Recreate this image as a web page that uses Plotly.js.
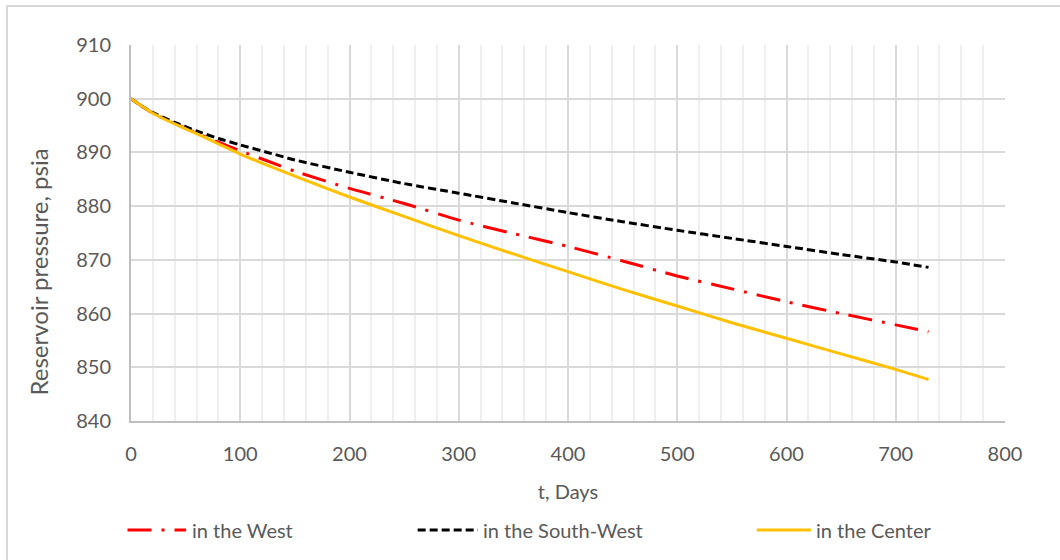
<!DOCTYPE html>
<html>
<head>
<meta charset="utf-8">
<script src="https://cdn.plot.ly/plotly-3.0.1.min.js"></script>
<style>
  html, body { margin: 0; padding: 0; background: #ffffff; }
  #wrap { position: relative; width: 1060px; height: 560px; overflow: hidden; }
  #chart { width: 1060px; height: 560px; }
  #frame {
    position: absolute; left: 6px; top: 5px; width: 1200px; height: 700px;
    border-left: 2px solid #d9d9d9; border-top: 2px solid #d9d9d9;
    pointer-events: none;
  }
</style>
</head>
<body>
<div id="wrap">
  <div id="chart"></div>
  <div id="frame"></div>
</div>
<script>
// Time since start of production, days
const days = [0, 10, 20, 40, 60, 80, 100, 125, 150, 200, 250, 300, 350, 400, 450, 500, 550, 600, 650, 700, 730];

// Average reservoir pressure (psia) for each well location
const westPressure = [900, 898.6, 897.3, 895.4, 893.6, 891.9, 890.3, 888.4, 886.5, 883.3, 880.5, 877.4, 874.9, 872.5, 869.8, 867.0, 864.6, 862.2, 860.0, 857.9, 856.6];
const southWestPressure = [900, 898.6, 897.4, 895.6, 894.0, 892.6, 891.4, 890.0, 888.6, 886.3, 884.2, 882.4, 880.6, 878.8, 877.1, 875.5, 874.0, 872.5, 871.0, 869.6, 868.6];
const centerPressure = [900, 898.6, 897.3, 895.3, 893.5, 891.6, 889.7, 887.6, 885.6, 881.7, 878.1, 874.5, 871.1, 867.8, 864.5, 861.4, 858.3, 855.4, 852.5, 849.6, 847.7];

const seriesNames = ["in the West", "in the South-West", "in the Center"];
const seriesColors = ["#ff0000", "#000000", "#ffc000"];
const seriesDash = ["24px,10px,3px,10px", "8px,4px", "solid"];

const FONT = "Lato, 'Open Sans', sans-serif";
const TEXT_COLOR = "#595959";

const values = [westPressure, southWestPressure, centerPressure];
const traces = values.map((v, i) => ({
  type: "scatter",
  mode: "lines",
  name: seriesNames[i],
  x: days,
  y: v,
  showlegend: false,
  line: { color: seriesColors[i], width: 3, dash: seriesDash[i], shape: "spline", smoothing: 0.6 }
}));

// Legend entries drawn as sample lines plus labels below the plot
const legendY = -0.29;
const legendSamples = [[-0.004, 0.063], [0.328, 0.397], [0.716, 0.778]];
const shapes = [];
const annotations = [];
legendSamples.forEach((s, i) => {
  shapes.push({
    type: "line", xref: "paper", yref: "paper",
    x0: s[0], x1: s[1], y0: legendY, y1: legendY,
    line: { color: seriesColors[i], width: 3, dash: seriesDash[i] }
  });
  annotations.push({
    xref: "paper", yref: "paper", x: s[1] + 0.004, y: legendY,
    xanchor: "left", yanchor: "middle", showarrow: false,
    text: seriesNames[i],
    font: { family: FONT, size: 20, color: TEXT_COLOR }
  });
});

// Vertical axis title, placed a little below the plot's mid-height
annotations.push({
  xref: "paper", yref: "paper", x: -0.106, y: 0.396,
  xanchor: "center", yanchor: "middle", showarrow: false,
  textangle: -90,
  text: "Reservoir pressure, psia",
  font: { family: FONT, size: 24, color: TEXT_COLOR }
});

const layout = {
  width: 1060,
  height: 560,
  margin: { l: 131, r: 55, t: 45, b: 139 },
  paper_bgcolor: "#ffffff",
  plot_bgcolor: "#ffffff",
  font: { family: FONT, size: 20, color: TEXT_COLOR },
  xaxis: {
    range: [0, 800],
    dtick: 100,
    tick0: 0,
    showgrid: true,
    gridcolor: "#d9d9d9",
    gridwidth: 2,
    minor: { dtick: 20, showgrid: true, gridcolor: "#efefef", gridwidth: 2 },
    showline: true,
    linecolor: "#bfbfbf",
    linewidth: 2,
    mirror: false,
    zeroline: false,
    ticks: "",
    ticklabelstandoff: 14,
    tickfont: { family: FONT, size: 20, color: TEXT_COLOR },
    title: { text: "t, Days", standoff: 21, font: { family: FONT, size: 20, color: TEXT_COLOR } },
    fixedrange: true
  },
  yaxis: {
    range: [840, 910],
    dtick: 10,
    tick0: 840,
    showgrid: true,
    gridcolor: "#d9d9d9",
    gridwidth: 2,
    showline: true,
    linecolor: "#bfbfbf",
    linewidth: 2,
    zeroline: false,
    ticks: "",
    ticklabelstandoff: 14,
    tickfont: { family: FONT, size: 20, color: TEXT_COLOR },
    fixedrange: true
  },
  shapes: shapes,
  annotations: annotations,
  showlegend: false
};

Plotly.newPlot("chart", traces, layout, { displayModeBar: false, staticPlot: true });
</script>
</body>
</html>
